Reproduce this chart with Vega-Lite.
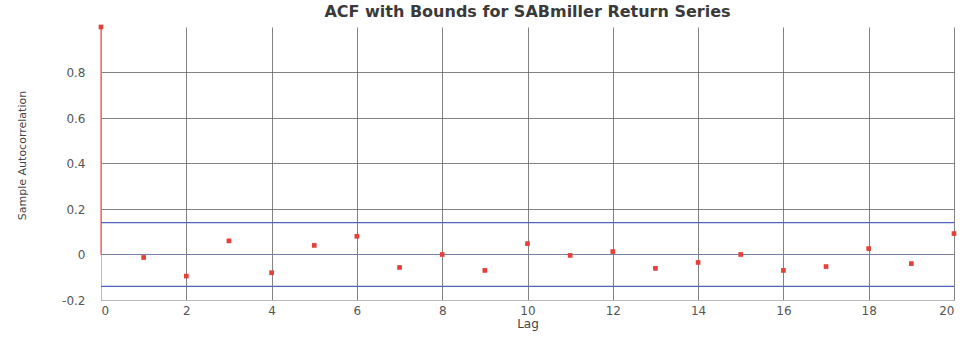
{
  "$schema": "https://vega.github.io/schema/vega-lite/v6.json",
  "width": 853,
  "height": 273,
  "autosize": "none",
  "padding": {"left": 101, "top": 27, "right": 15, "bottom": 37},
  "background": "white",
  "title": {
    "text": "ACF with Bounds for SABmiller Return Series",
    "font": "DejaVu Sans",
    "fontSize": 16,
    "fontWeight": "bold",
    "color": "#3a3a3a",
    "offset": 4,
    "anchor": "middle"
  },
  "config": {
    "view": {"stroke": null},
    "axis": {
      "labelFont": "DejaVu Sans",
      "labelFontSize": 12,
      "labelColor": "#555555",
      "titleFont": "DejaVu Sans",
      "titleFontSize": 12,
      "titleFontWeight": "normal",
      "titleColor": "#444444",
      "gridColor": "#5a5a5a",
      "gridOpacity": 0.75,
      "gridWidth": 1,
      "domainColor": "#bbbbbb",
      "tickColor": "#888888"
    }
  },
  "datasets": {
    "acf": [
      {"lag": 0, "acf": 1.0},
      {"lag": 1, "acf": -0.013},
      {"lag": 2, "acf": -0.095},
      {"lag": 3, "acf": 0.06},
      {"lag": 4, "acf": -0.08},
      {"lag": 5, "acf": 0.04},
      {"lag": 6, "acf": 0.08},
      {"lag": 7, "acf": -0.057},
      {"lag": 8, "acf": 0.0},
      {"lag": 9, "acf": -0.07},
      {"lag": 10, "acf": 0.048},
      {"lag": 11, "acf": -0.004},
      {"lag": 12, "acf": 0.013},
      {"lag": 13, "acf": -0.061},
      {"lag": 14, "acf": -0.035},
      {"lag": 15, "acf": 0.0},
      {"lag": 16, "acf": -0.07},
      {"lag": 17, "acf": -0.053},
      {"lag": 18, "acf": 0.026},
      {"lag": 19, "acf": -0.04},
      {"lag": 20, "acf": 0.092}
    ],
    "bounds": [{"bound": 0.14}, {"bound": -0.14}],
    "baseline": [{"level": 0}]
  },
  "data": {"name": "acf"},
  "layer": [
    {
      "mark": {"type": "point", "opacity": 0},
      "encoding": {
        "x": {
          "field": "lag",
          "type": "quantitative",
          "scale": {"domain": [0, 20], "nice": false, "zero": false},
          "axis": {
            "title": "Lag",
            "values": [0, 2, 4, 6, 8, 10, 12, 14, 16, 18, 20],
            "grid": true,
            "tickSize": 0,
            "labelPadding": 5,
            "titlePadding": 2
          }
        },
        "y": {
          "field": "acf",
          "type": "quantitative",
          "scale": {"domain": [-0.2, 1], "nice": false, "zero": false},
          "axis": {
            "title": "Sample Autocorrelation",
            "titleFontSize": 11,
            "titleY": 128,
            "values": [-0.2, 0, 0.2, 0.4, 0.6, 0.8],
            "labelExpr": "datum.value == 0 ? '0' : (datum.value < 0 ? '-' + format(-datum.value, '.1f') : format(datum.value, '.1f'))",
            "grid": true,
            "tickSize": 0,
            "labelPadding": 16,
            "titlePadding": 34
          }
        }
      }
    },
    {
      "data": {"name": "bounds"},
      "mark": {"type": "rule", "color": "#5263c0", "strokeWidth": 1.2},
      "encoding": {"y": {"field": "bound", "type": "quantitative"}}
    },
    {
      "data": {"name": "baseline"},
      "mark": {"type": "rule", "color": "#7a7fa8", "strokeWidth": 1},
      "encoding": {"y": {"field": "level", "type": "quantitative"}}
    },
    {
      "transform": [{"filter": "datum.lag == 0"}],
      "mark": {"type": "rule", "color": "#e04040", "strokeWidth": 1},
      "encoding": {
        "x": {"field": "lag", "type": "quantitative"},
        "y": {"field": "acf", "type": "quantitative"},
        "y2": {"datum": 0}
      }
    },
    {
      "mark": {"type": "square", "filled": true, "color": "#e5403a", "size": 22, "opacity": 1},
      "encoding": {
        "x": {"field": "lag", "type": "quantitative"},
        "y": {"field": "acf", "type": "quantitative"}
      }
    }
  ]
}
